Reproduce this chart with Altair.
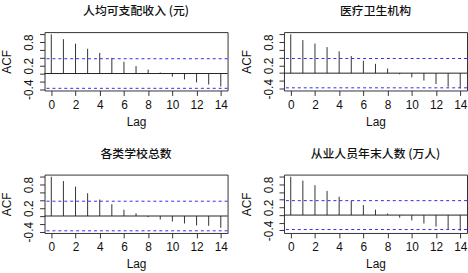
import altair as alt
import pandas as pd

lags = list(range(15))
titles = ["人均可支配收入 (元)", "医疗卫生机构", "各类学校总数", "从业人员年末人数 (万人)"]
acf_income = [1.0, 0.875, 0.76, 0.63, 0.525, 0.40, 0.30, 0.19, 0.10, 0.025, -0.08, -0.15, -0.225, -0.28, -0.33]
acf_health = [1.0, 0.85, 0.76, 0.67, 0.56, 0.44, 0.32, 0.24, 0.12, -0.03, -0.11, -0.19, -0.28, -0.35, -0.39]
acf_school = [1.0, 0.89, 0.75, 0.58, 0.42, 0.30, 0.16, 0.07, -0.03, -0.09, -0.14, -0.19, -0.24, -0.25, -0.30]
acf_employ = [1.0, 0.90, 0.78, 0.63, 0.48, 0.38, 0.26, 0.14, 0.04, -0.07, -0.14, -0.22, -0.30, -0.37, -0.41]
series = [acf_income, acf_health, acf_school, acf_employ]
ci = 0.377
x_ticks = [0, 2, 4, 6, 8, 10, 12, 14]
y_ticks = [-0.4, -0.2, 0.0, 0.2, 0.4, 0.6, 0.8, 1.0]
y_labeled = [-0.4, 0.2, 0.8]

label_test = " || ".join(f"abs(datum.value - ({v})) < 0.001" for v in y_labeled)
label_expr = f"({label_test}) ? ((datum.value < 0 ? '-' : '') + format(abs(datum.value), '.1f')) : ''"


def panel(title, acf):
    df = pd.DataFrame({"lag": lags, "acf": acf})
    lo = min(min(acf), -ci)
    hi = max(max(acf), ci)
    pad = 0.04 * (hi - lo)
    ydom = [lo - pad, hi + pad]
    xdom = [-0.56, 14.56]
    xenc = alt.X("lag:Q", scale=alt.Scale(domain=xdom, nice=False, zero=False),
                 axis=alt.Axis(values=x_ticks, title="Lag", labelPadding=4, titlePadding=6,
                               labelFlush=False, labelOverlap=False))
    yenc = alt.Y("acf:Q", scale=alt.Scale(domain=ydom, nice=False, zero=False),
                 axis=alt.Axis(values=y_ticks, title="ACF", labelExpr=label_expr, labelAngle=-90,
                               labelAlign="center", labelBaseline="bottom", labelPadding=4,
                               titlePadding=9, labelFlush=False, labelOverlap=False))
    bars = alt.Chart(df).mark_rule(color="#333", strokeWidth=1).encode(x=xenc, y=yenc, y2=alt.datum(0))
    zero = alt.Chart(pd.DataFrame({"acf": [0.0]})).mark_rule(color="#222", strokeWidth=1).encode(y=yenc)
    conf = alt.Chart(pd.DataFrame({"acf": [ci, -ci]})).mark_rule(
        color="#2d2df5", strokeWidth=1, strokeDash=[3, 3]).encode(y=yenc)
    return alt.layer(bars, zero, conf).properties(
        width=185, height=59,
        title=alt.TitleParams(text=title, font="Noto Sans CJK SC", fontSize=12, fontWeight=500,
                              anchor="middle", frame="group", offset=14, color="#111"))


panels = [panel(t, s) for t, s in zip(titles, series)]
chart = alt.concat(*panels, columns=2, spacing={"row": 85, "column": 57}, bounds="flush").properties(
    padding={"left": 0, "top": 3, "right": 0, "bottom": 0}
).configure_view(stroke="#333", strokeWidth=1).configure_axis(
    grid=False, domain=False, tickColor="#333", tickSize=5,
    labelFont="Liberation Sans", labelFontSize=12, labelColor="#111",
    titleFont="Liberation Sans", titleFontSize=12, titleFontWeight="normal", titleColor="#111")

chart.save("out.html", embed_options={"renderer": "svg", "actions": False})
